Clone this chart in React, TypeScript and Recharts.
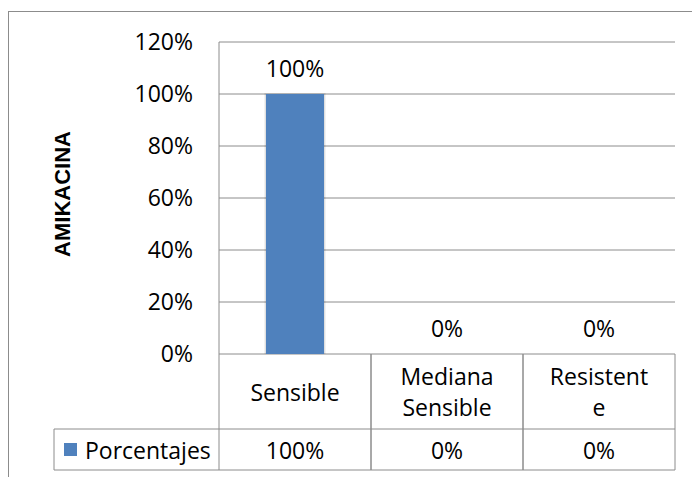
import React from 'react';
import { BarChart, Bar, XAxis, YAxis, CartesianGrid, LabelList } from 'recharts';

const categories = ['Sensible', 'Mediana Sensible', 'Resistente'];
const categoryLabelLines = [['Sensible'], ['Mediana', 'Sensible'], ['Resistent', 'e']];
const porcentajes = [100, 0, 0];
const yTicks = [0, 20, 40, 60, 80, 100, 120];
const seriesName = 'Porcentajes';
const axisTitle = 'AMIKACINA';

const data = categories.map((c, i) => ({ name: c, value: porcentajes[i] }));

const FONT = '"Open Sans", sans-serif';
const FS = 23;
const GRID = '#8c8c8c';
const BLUE = '#4F81BD';
const CAT_ROW = 75;
const TABLE_H = 116;
const TICK_OFF = 8; // tickSize 6 + tickMargin 2

const pct = (v: number) => `${v}%`;

const TableTick = (props: any) => {
  const { x, y, index, visibleTicksCount, width } = props;
  const n = visibleTicksCount || categories.length;
  const cw = width ? width / n : 152;
  const top = y - TICK_OFF;
  const left = x - cw / 2;
  const right = x + cw / 2;
  const lines = categoryLabelLines[index] || [];
  const rowCenter = top + CAT_ROW / 2;
  const lh = 31;
  const valCenter = top + CAT_ROW + (TABLE_H - CAT_ROW) / 2;
  return (
    <g>
      <line x1={left} y1={top} x2={left} y2={top + TABLE_H} stroke={GRID} strokeWidth={1} />
      <line x1={right} y1={top} x2={right} y2={top + TABLE_H} stroke={GRID} strokeWidth={1} />
      <line x1={left} y1={top + CAT_ROW} x2={right} y2={top + CAT_ROW} stroke={GRID} strokeWidth={1} />
      <line x1={left} y1={top + TABLE_H} x2={right} y2={top + TABLE_H} stroke={GRID} strokeWidth={1} />
      {lines.map((ln: string, i: number) => (
        <text
          key={i}
          x={x}
          y={rowCenter + (i - (lines.length - 1) / 2) * lh}
          textAnchor="middle"
          dominantBaseline="central"
          fontFamily={FONT}
          fontSize={FS}
          fill="#000"
        >
          {ln}
        </text>
      ))}
      <text
        x={x}
        y={valCenter}
        textAnchor="middle"
        dominantBaseline="central"
        fontFamily={FONT}
        fontSize={FS}
        fill="#000"
      >
        {pct(porcentajes[index])}
      </text>
      {index === 0 && (
        <g>
          <line x1={54} y1={top + CAT_ROW} x2={left} y2={top + CAT_ROW} stroke={GRID} strokeWidth={1} />
          <line x1={54} y1={top + TABLE_H} x2={left} y2={top + TABLE_H} stroke={GRID} strokeWidth={1} />
          <line x1={54} y1={top + CAT_ROW} x2={54} y2={top + TABLE_H} stroke={GRID} strokeWidth={1} />
          <rect x={64} y={valCenter - 6.5} width={13} height={13} fill={BLUE} />
          <text
            x={85}
            y={valCenter}
            textAnchor="start"
            dominantBaseline="central"
            fontFamily={FONT}
            fontSize={FS}
            fill="#000"
          >
            {seriesName}
          </text>
        </g>
      )}
    </g>
  );
};

const ShadowBar = (props: any) => {
  const { x, y, width, height } = props;
  if (!height || height <= 0) return null;
  return (
    <g>
      <rect x={x - 2} y={y - 1} width={width + 4} height={height + 1} fill="rgba(0,0,0,0.05)" />
      <rect x={x - 1} y={y - 0.5} width={width + 2} height={height + 0.5} fill="rgba(0,0,0,0.08)" />
      <rect x={x} y={y} width={width} height={height} fill={BLUE} />
    </g>
  );
};

const YTitle = (props: any) => {
  const vb = props.viewBox || { x: 0, y: 42, width: 219, height: 312 };
  const cx = vb.x + 62;
  const cy = vb.y + vb.height / 2 - 4;
  return (
    <text
      x={cx}
      y={cy}
      transform={`rotate(-90 ${cx} ${cy})`}
      textAnchor="middle"
      dominantBaseline="central"
      fontFamily='"Liberation Sans", Arial, sans-serif'
      fontWeight="bold"
      fontSize={22}
      fill="#000"
    >
      {axisTitle}
    </text>
  );
};

export default function App() {
  return (
    <div style={{ position: 'absolute', left: 0, top: 0, width: 692, height: 477, overflow: 'hidden', background: '#fff' }}>
      <div
        style={{
          position: 'absolute',
          left: 8,
          top: 11,
          width: 720,
          height: 500,
          borderLeft: `1px solid ${GRID}`,
          borderTop: `1px solid ${GRID}`,
          boxSizing: 'border-box',
        }}
      />
      <div style={{ position: 'absolute', left: 0, top: 0 }}>
        <BarChart
          width={692}
          height={477}
          data={data}
          margin={{ top: 42, right: 17, bottom: 7, left: 0 }}
          barSize={58}
        >
          <CartesianGrid horizontal vertical={false} stroke={GRID} strokeDasharray="" />
          <XAxis
            dataKey="name"
            height={TABLE_H}
            axisLine={false}
            tickLine={false}
            tickSize={6}
            tickMargin={2}
            interval={0}
            tick={<TableTick />}
          />
          <YAxis
            width={219}
            domain={[0, 120]}
            ticks={yTicks}
            tickFormatter={pct}
            axisLine={{ stroke: GRID }}
            tickLine={false}
            tickSize={6}
            tickMargin={20}
            tick={{ fontFamily: FONT, fontSize: FS, fill: '#000' }}
            label={{ content: <YTitle /> }}
          />
          <Bar dataKey="value" fill={BLUE} isAnimationActive={false} shape={<ShadowBar />}>
            <LabelList
              dataKey="value"
              position="top"
              offset={17}
              formatter={pct}
              style={{ fontFamily: FONT, fontSize: FS, fill: '#000' }}
            />
          </Bar>
        </BarChart>
      </div>
    </div>
  );
}
